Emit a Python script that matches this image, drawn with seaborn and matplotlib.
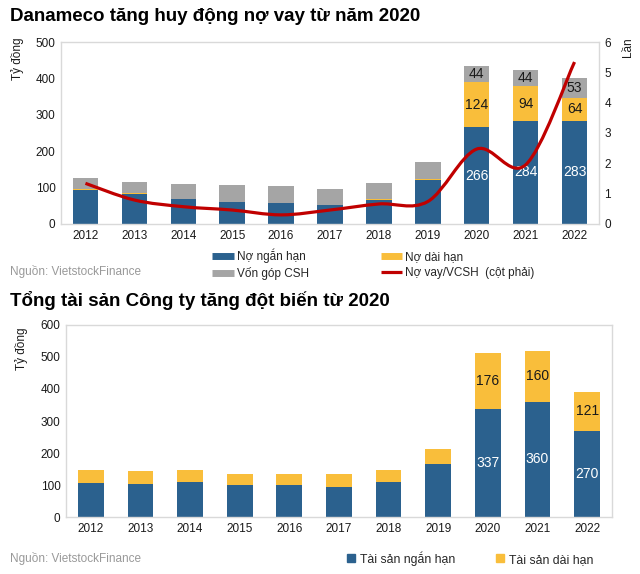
import numpy as np
import pandas as pd
import matplotlib
matplotlib.use("Agg")
import matplotlib.pyplot as plt
import seaborn as sns
from matplotlib.path import Path
from matplotlib.patches import PathPatch
from matplotlib.lines import Line2D

years = ["2012", "2013", "2014", "2015", "2016", "2017", "2018", "2019", "2020", "2021", "2022"]
no_ngan_han = [92, 81, 69, 61, 58, 53, 66, 121, 266, 284, 283]
no_dai_han = [5, 3, 0, 0, 0, 0, 3, 3, 124, 94, 64]
von_gop = [30, 30, 42, 45, 45, 43, 44, 45, 44, 44, 53]
no_vay_vcsh = [1.34, 0.79, 0.57, 0.46, 0.30, 0.46, 0.66, 0.74, 2.47, 1.95, 5.34]

ts_ngan_han = [106, 103, 109, 100, 100, 94, 109, 166, 337, 360, 270]
ts_dai_han = [41, 41, 38, 34, 34, 40, 38, 47, 176, 160, 121]

BLUE = "#2B618E"
YELLOW = "#F9BE3B"
GRAY = "#A5A5A5"
RED = "#C00000"
FRAME = "#D9D9D9"
TXT = "#1A1A1A"

sns.set_theme(style="white")
plt.rcParams["font.family"] = ["Liberation Sans", "DejaVu Sans"]

fig = plt.figure(figsize=(6.4, 5.74), dpi=100)

df1 = pd.DataFrame({"year": years, "ngan": no_ngan_han, "dai": no_dai_han, "von": von_gop})
df1["b2"] = df1["ngan"]
df1["b3"] = df1["ngan"] + df1["dai"]

bar_kw = dict(width=0.52, saturation=1, linewidth=0)
ax1 = fig.add_axes([0.0953, 0.6098, 0.8406, 0.317])
sns.barplot(data=df1, x="year", y="ngan", color=BLUE, ax=ax1, **bar_kw)
sns.barplot(data=df1, x="year", y="dai", bottom=df1["b2"], color=YELLOW, ax=ax1, **bar_kw)
sns.barplot(data=df1, x="year", y="von", bottom=df1["b3"], color=GRAY, ax=ax1, **bar_kw)
ax1.set_ylim(0, 500)
ax1.set_xlim(-0.5, 10.5)
ax1.set_yticks([0, 100, 200, 300, 400, 500])
ax1.set_xlabel("")
ax1.set_ylabel("")
ax1.tick_params(axis="both", length=0, labelsize=8.5, colors=TXT, pad=4)
for s in ax1.spines.values():
    s.set_color(FRAME)
    s.set_linewidth(1)

for i in range(8, 11):
    ax1.text(i, no_ngan_han[i] / 2, str(no_ngan_han[i]), ha="center", va="center", color="white", fontsize=10)
    ax1.text(i, no_ngan_han[i] + no_dai_han[i] / 2, str(no_dai_han[i]), ha="center", va="center", color=TXT, fontsize=10)
    ax1.text(i, no_ngan_han[i] + no_dai_han[i] + von_gop[i] / 2, str(von_gop[i]), ha="center", va="center", color=TXT, fontsize=10)

ax1r = ax1.twinx()
ax1r.set_ylim(0, 6)
ax1r.set_yticks(range(7))
ax1r.tick_params(axis="both", length=0, labelsize=8.5, colors=TXT, pad=4)
for s in ax1r.spines.values():
    s.set_visible(False)

# smoothed line (Excel-style Bezier through the data points)
xs = np.arange(len(no_vay_vcsh), dtype=float)
ys = np.array(no_vay_vcsh)
verts = [(xs[0], ys[0])]
codes = [Path.MOVETO]
n = len(xs)
for i in range(n - 1):
    p0 = np.array([xs[max(i - 1, 0)], ys[max(i - 1, 0)]])
    p1 = np.array([xs[i], ys[i]])
    p2 = np.array([xs[i + 1], ys[i + 1]])
    p3 = np.array([xs[min(i + 2, n - 1)], ys[min(i + 2, n - 1)]])
    c1 = p1 + (p2 - p0) / 6
    c2 = p2 - (p3 - p1) / 6
    verts += [tuple(c1), tuple(c2), tuple(p2)]
    codes += [Path.CURVE4] * 3
ax1r.add_patch(PathPatch(Path(verts, codes), fill=False, edgecolor=RED, lw=2.3, capstyle="butt"))
ax1r.grid(False)

fig.text(0.016, 0.972, "Danameco tăng huy động nợ vay từ năm 2020", fontsize=13.5, fontweight="bold", color="black", va="center")
fig.text(0.028, 0.935, "Tỷ đồng", rotation=90, fontsize=8.5, color=TXT, ha="center", va="top")
fig.text(0.981, 0.935, "Lần", rotation=90, fontsize=8.5, color=TXT, ha="center", va="top")

handles1 = [
    Line2D([], [], color=BLUE, lw=5, solid_capstyle="butt"),
    Line2D([], [], color=GRAY, lw=5, solid_capstyle="butt"),
    Line2D([], [], color=YELLOW, lw=5, solid_capstyle="butt"),
    Line2D([], [], color=RED, lw=2.3, solid_capstyle="butt"),
]
labels1 = ["Nợ ngắn hạn", "Vốn góp CSH", "Nợ dài hạn", "Nợ vay/VCSH  (cột phải)"]
fig.legend(handles1, labels1, ncol=2, loc="upper left", bbox_to_anchor=(0.332, 0.567), frameon=False,
           fontsize=8.5, handlelength=1.8, handletextpad=0.25, columnspacing=6.1, labelspacing=0.35,
           borderpad=0, borderaxespad=0)
fig.text(0.016, 0.527, "Nguồn: VietstockFinance", fontsize=8.5, color="#999999", va="center")

# Bottom chart
df2 = pd.DataFrame({"year": years, "ngan": ts_ngan_han, "dai": ts_dai_han})
ax2 = fig.add_axes([0.1031, 0.0993, 0.853, 0.3345])
sns.barplot(data=df2, x="year", y="ngan", color=BLUE, ax=ax2, **bar_kw)
sns.barplot(data=df2, x="year", y="dai", bottom=df2["ngan"], color=YELLOW, ax=ax2, **bar_kw)
ax2.set_ylim(0, 600)
ax2.set_xlim(-0.5, 10.5)
ax2.set_yticks(range(0, 601, 100))
ax2.set_xlabel("")
ax2.set_ylabel("")
ax2.tick_params(axis="both", length=0, labelsize=8.5, colors=TXT, pad=4)
for s in ax2.spines.values():
    s.set_color(FRAME)
    s.set_linewidth(1)
for i in range(8, 11):
    ax2.text(i, ts_ngan_han[i] / 2, str(ts_ngan_han[i]), ha="center", va="center", color="white", fontsize=10)
    ax2.text(i, ts_ngan_han[i] + ts_dai_han[i] / 2, str(ts_dai_han[i]), ha="center", va="center", color=TXT, fontsize=10)

fig.text(0.016, 0.477, "Tổng tài sản Công ty tăng đột biến từ 2020", fontsize=13.5, fontweight="bold", color="black", va="center")
fig.text(0.033, 0.430, "Tỷ đồng", rotation=90, fontsize=8.5, color=TXT, ha="center", va="top")

handles2 = [
    Line2D([], [], color=BLUE, marker="s", markersize=6, lw=0),
    Line2D([], [], color=YELLOW, marker="s", markersize=6, lw=0),
]
fig.legend(handles2, ["Tài sản ngắn hạn", "Tài sản dài hạn"], ncol=2, loc="center left",
           bbox_to_anchor=(0.541, 0.027), frameon=False, fontsize=8.8, handlelength=0.8,
           handletextpad=0.3, columnspacing=3.3, borderpad=0, borderaxespad=0)
fig.text(0.016, 0.027, "Nguồn: VietstockFinance", fontsize=8.5, color="#999999", va="center")

fig.savefig("out.png", dpi=100)
